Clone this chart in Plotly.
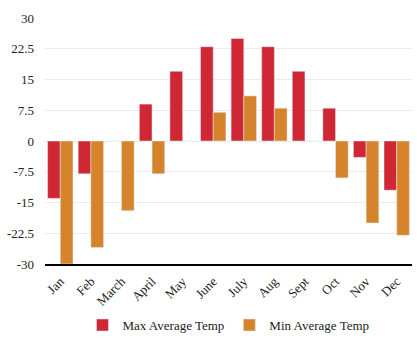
import plotly.graph_objects as go

months = ["Jan", "Feb", "March", "April", "May", "June", "July", "Aug", "Sept", "Oct", "Nov", "Dec"]
max_temp = [-14, -8, 0, 9, 17, 23, 25, 23, 17, 8, -4, -12]
min_temp = [-30, -26, -17, -8, 0, 7, 11, 8, 0, -9, -20, -23]
tick_vals = [-30, -22.5, -15, -7.5, 0, 7.5, 15, 22.5, 30]
tick_text = ["-30", "-22.5", "-15", "-7.5", "0", "7.5", "15", "22.5", "30"]

FONT = "Times New Roman, Liberation Serif, DejaVu Serif, Noto Serif, serif"

fig = go.Figure()
fig.add_trace(go.Bar(x=months, y=max_temp, name="Max Average Temp", marker_color="#cf2734"))
fig.add_trace(go.Bar(x=months, y=min_temp, name="Min Average Temp", marker_color="#d6842c"))

fig.update_layout(
    width=417, height=340,
    margin=dict(l=45, r=5, t=18, b=76, autoexpand=False),
    barmode="group", bargap=0.17, bargroupgap=0,
    plot_bgcolor="white", paper_bgcolor="white",
    font=dict(family=FONT, size=13, color="#222"),
    showlegend=True,
    legend=dict(orientation="h", x=0.5, xanchor="center", yref="container", y=0.044, yanchor="middle",
                font=dict(family=FONT, size=13), itemwidth=30, traceorder="normal"),
    xaxis=dict(tickangle=-45, showline=True, linecolor="black", linewidth=1.5,
               ticks="", showgrid=False, automargin=False, ticklabelstandoff=3,
               tickfont=dict(family=FONT, size=13)),
    yaxis=dict(range=[-30, 30], tickvals=tick_vals, ticktext=tick_text,
               showgrid=True, gridcolor="#ebebeb", zeroline=False, ticks="",
               showline=False, automargin=False, ticklabelstandoff=10,
               tickfont=dict(family=FONT, size=13)),
)

fig.write_html("out.html")
